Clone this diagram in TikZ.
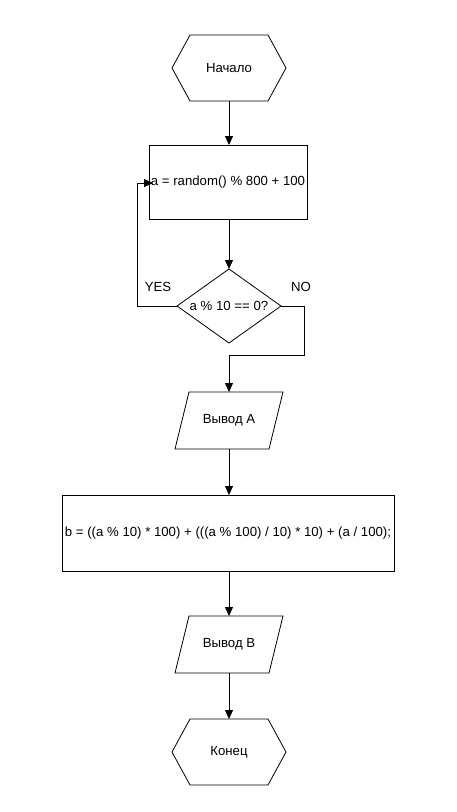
\documentclass[tikz,border=0pt]{standalone}
\usepackage{fontspec}
\setmainfont{Liberation Sans}
\usetikzlibrary{arrows.meta}
\begin{document}
\begin{tikzpicture}[x=1pt,y=-1pt,
  line width=0.8pt,
  every node/.style={font=\fontsize{13.2}{16}\selectfont, inner sep=0pt, outer sep=0pt},
  box/.style={draw, rectangle},
  ghost/.style={rectangle},
  arr/.style={-{Triangle[length=9pt,width=8pt]}},
  lbl/.style={}
]
\fill[white] (0,0) rectangle (456,812);
\useasboundingbox (0,0) rectangle (456,812);

% nodes
\node[ghost, minimum width=114pt, minimum height=66pt] (start) at (229,68) {Начало};
\node[box, minimum width=158pt, minimum height=74pt] (proc1) at (228,182) {a = random() \% 800 + 100};
\node[ghost, minimum width=104pt, minimum height=74pt] (dec) at (229,306) {a \% 10 == 0?};
\node[ghost, minimum width=108pt, minimum height=57pt] (outA) at (229,420.5) {Вывод А};
\node[box, minimum width=332pt, minimum height=76pt] (proc2) at (228,533) {b = ((a \% 10) * 100) + (((a \% 100) / 10) * 10) + (a / 100);};
\node[ghost, minimum width=108pt, minimum height=57pt] (outB) at (229,644.5) {Вывод В};
\node[ghost, minimum width=114pt, minimum height=66pt] (end) at (229,752) {Конец};
\node[lbl] (yes) at (158,287) {YES};
\node[lbl] (no) at (301,287) {NO};
\coordinate (loopend) at (153,183);

% shapes
\draw ([xshift=18pt]start.north west) -- ([xshift=-18pt]start.north east) -- (start.east)
  -- ([xshift=-18pt]start.south east) -- ([xshift=18pt]start.south west) -- (start.west) -- cycle;
\draw ([xshift=18pt]end.north west) -- ([xshift=-18pt]end.north east) -- (end.east)
  -- ([xshift=-18pt]end.south east) -- ([xshift=18pt]end.south west) -- (end.west) -- cycle;
\draw (dec.north) -- (dec.east) -- (dec.south) -- (dec.west) -- cycle;
\draw ([xshift=14pt]outA.north west) -- (outA.north east) -- ([xshift=-14pt]outA.south east) -- (outA.south west) -- cycle;
\draw ([xshift=14pt]outB.north west) -- (outB.north east) -- ([xshift=-14pt]outB.south east) -- (outB.south west) -- cycle;

% connectors
\draw[arr] (start.south) -- (start.south |- proc1.north);
\draw[arr] (dec.north |- proc1.south) -- (dec.north);
\draw[arr] (dec.west) -| (137,183) -- (loopend);
\draw[arr] (dec.east) -| (304,355) -| (outA.north);
\draw[arr] (outA.south) -- (outA.south |- proc2.north);
\draw[arr] (outB.north |- proc2.south) -- (outB.north);
\draw[arr] (outB.south) -- (end.north);
\end{tikzpicture}
\end{document}
